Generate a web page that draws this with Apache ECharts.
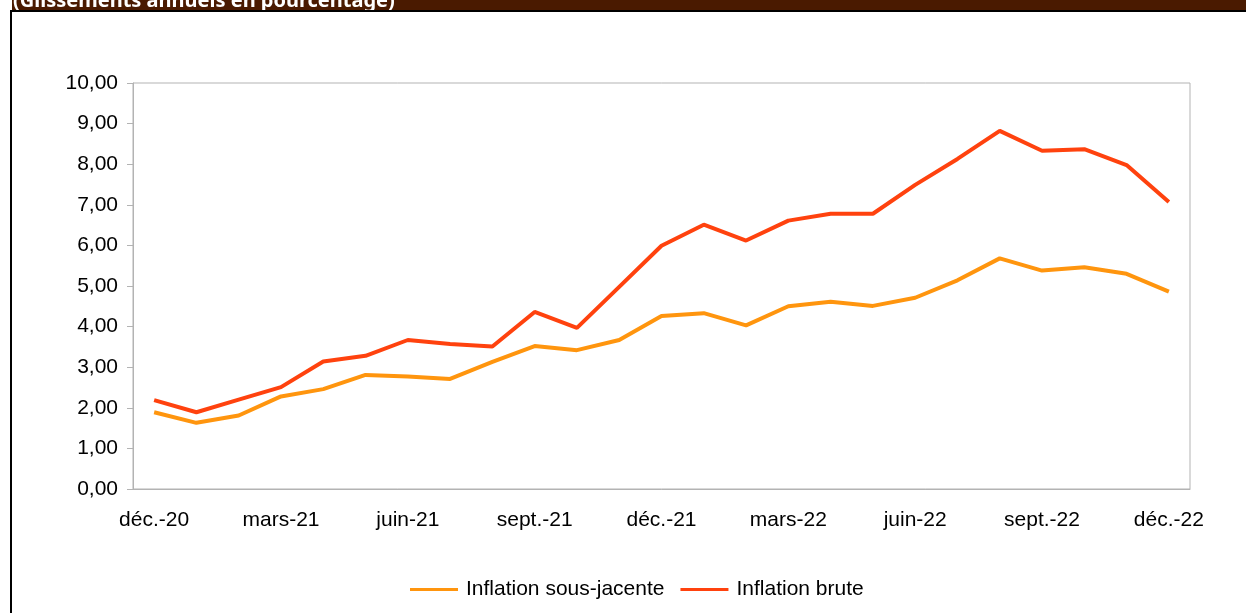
<!DOCTYPE html>
<html>
<head>
<meta charset="utf-8">
<script src="https://cdn.jsdelivr.net/npm/echarts@6/dist/echarts.min.js"></script>
<style>
  html, body { margin: 0; padding: 0; background: #fff; }
  #chart { width: 1246px; height: 613px; }
</style>
</head>
<body>
<div id="chart"></div>
<script>
// mois (déc.-20 à déc.-22)
var mois = ['déc.-20', 'janv.-21', 'févr.-21', 'mars-21', 'avr.-21', 'mai-21', 'juin-21',
  'juil.-21', 'août-21', 'sept.-21', 'oct.-21', 'nov.-21', 'déc.-21', 'janv.-22', 'févr.-22',
  'mars-22', 'avr.-22', 'mai-22', 'juin-22', 'juil.-22', 'août-22', 'sept.-22', 'oct.-22',
  'nov.-22', 'déc.-22'];

// glissements annuels en %
var sousJacente = [1.89, 1.63, 1.81, 2.28, 2.46, 2.81, 2.77, 2.71, 3.13, 3.52, 3.42, 3.67,
  4.26, 4.33, 4.03, 4.50, 4.61, 4.51, 4.71, 5.14, 5.68, 5.38, 5.46, 5.30, 4.86];
var brute = [2.19, 1.89, 2.20, 2.51, 3.14, 3.28, 3.67, 3.57, 3.51, 4.36, 3.97, 4.98,
  5.99, 6.51, 6.12, 6.61, 6.78, 6.78, 7.49, 8.13, 8.82, 8.33, 8.37, 7.98, 7.07];

var titre = '(Glissements annuels en pourcentage)';

var myChart = echarts.init(document.getElementById('chart'));

var police = '"Liberation Sans", Arial, sans-serif';

var option = {
  animation: false,
  textStyle: { fontFamily: police },
  graphic: [
    { type: 'rect', shape: { x: 12, y: 0, width: 1234, height: 10 }, style: { fill: '#4a1a00' } },
    { type: 'text', x: 13, y: 11, style: { text: titre, fill: '#fff', font: 'bold 20px "Noto Sans", sans-serif', textVerticalAlign: 'bottom' } },
    { type: 'rect', shape: { x: 10, y: 10, width: 1236, height: 2 }, style: { fill: '#000' } },
    { type: 'rect', shape: { x: 10, y: 10, width: 2, height: 603 }, style: { fill: '#000' } }
  ],
  grid: {
    left: 133, right: 56, top: 83, bottom: 124,
    show: true, borderColor: '#b3b3b3', borderWidth: 1
  },
  legend: {
    bottom: 8,
    left: 405,
    icon: 'rect',
    itemWidth: 48,
    itemHeight: 3,
    itemGap: 16,
    textStyle: { fontSize: 21, color: '#000', fontFamily: police, padding: [0, 0, 0, 3] },
    data: ['Inflation sous-jacente', 'Inflation brute']
  },
  xAxis: {
    type: 'category',
    data: mois,
    boundaryGap: true,
    axisLine: { lineStyle: { color: '#b3b3b3' } },
    axisTick: { interval: 2, length: 6, lineStyle: { color: '#b3b3b3' } },
    axisLabel: { interval: 2, color: '#000', fontSize: 21, margin: 21, fontFamily: police }
  },
  yAxis: {
    type: 'value',
    min: 0, max: 10, interval: 1,
    axisLine: { show: true, lineStyle: { color: '#b3b3b3' } },
    axisTick: { show: true, length: 6, lineStyle: { color: '#b3b3b3' } },
    splitLine: { show: false },
    axisLabel: {
      color: '#000', fontSize: 21, margin: 15, fontFamily: police,
      formatter: function (v) { return v.toFixed(2).replace('.', ','); }
    }
  },
  series: [
    {
      name: 'Inflation sous-jacente', type: 'line', data: sousJacente,
      showSymbol: false, color: '#ff950e', lineStyle: { width: 4, color: '#ff950e' }
    },
    {
      name: 'Inflation brute', type: 'line', data: brute,
      showSymbol: false, color: '#ff420e', lineStyle: { width: 4, color: '#ff420e' }
    }
  ]
};

myChart.setOption(option);
</script>
</body>
</html>
